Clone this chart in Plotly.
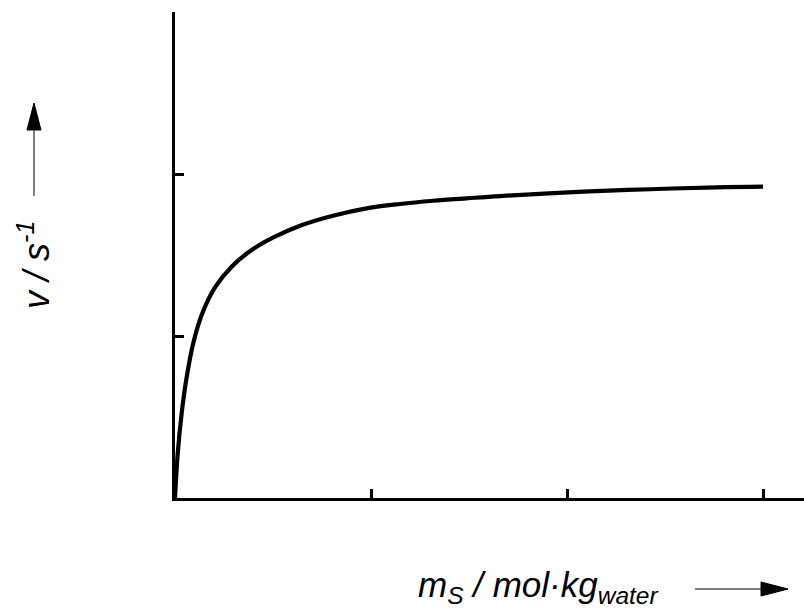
import plotly.graph_objects as go

# Data (substrate molality vs rate), arbitrary units
m_s = [0.0, 0.014, 0.034, 0.060, 0.093, 0.136, 0.204, 0.289, 0.391, 0.510,
       0.648, 0.811, 0.978, 1.148, 1.318, 1.488, 1.658, 2.083, 2.423, 2.764, 3.0]
v = [0.0, 0.276, 0.523, 0.749, 0.955, 1.130, 1.300, 1.428, 1.531, 1.613,
     1.685, 1.744, 1.788, 1.815, 1.835, 1.850, 1.864, 1.891, 1.906, 1.918, 1.922]
x_ticks = [0, 1, 2, 3]
y_ticks = [0, 1, 2, 3]

W, H = 804, 615
L, R, T, B = 175, 0, 12, 117
PW, PH = W - L - R, H - T - B

def px(xp):
    return (xp - L) / PW

def py(yp):
    return (H - B - yp) / PH

FONT = "Liberation Sans, Arial, sans-serif"

fig = go.Figure()
fig.add_trace(go.Scatter(x=m_s, y=v, mode="lines",
                         line=dict(color="black", width=4.2, shape="spline", smoothing=1.0),
                         hoverinfo="skip"))

axis_common = dict(showgrid=False, zeroline=False, showline=True, linecolor="black",
                   linewidth=3, ticks="inside", ticklen=9, tickwidth=2.5,
                   tickcolor="black", showticklabels=False)

fig.update_xaxes(range=[0, (W - L - R) / 196.0], tickvals=x_ticks, **axis_common)
fig.update_yaxes(range=[0, 3], tickvals=y_ticks, **axis_common)

annotations = [
    dict(text="<i>m<sub>S</sub> / mol·kg<sub>water</sub></i>", xref="paper", yref="paper",
         x=px(538), y=py(587), xanchor="center", yanchor="middle", showarrow=False,
         font=dict(family=FONT, size=35, color="black")),
    dict(text="<i>v / s<sup>-1</sup></i>", xref="paper", yref="paper",
         x=px(34), y=py(265), xanchor="center", yanchor="middle", showarrow=False,
         textangle=-90, font=dict(family=FONT, size=36, color="black")),
]

shapes = [
    # x arrow
    dict(type="line", xref="paper", yref="paper", x0=px(695), x1=px(762), y0=py(589), y1=py(589),
         line=dict(color="#555555", width=1.5)),
    dict(type="path", xref="paper", yref="paper",
         path=f"M {px(761)} {py(582)} L {px(788)} {py(589)} L {px(761)} {py(596)} Z",
         fillcolor="black", line=dict(color="black", width=1)),
    # y arrow
    dict(type="line", xref="paper", yref="paper", x0=px(34), x1=px(34), y0=py(196), y1=py(128),
         line=dict(color="#555555", width=1.5)),
    dict(type="path", xref="paper", yref="paper",
         path=f"M {px(27)} {py(130)} L {px(34)} {py(103)} L {px(41)} {py(130)} Z",
         fillcolor="black", line=dict(color="black", width=1)),
]

fig.update_layout(width=W, height=H, margin=dict(l=L, r=R, t=T, b=B),
                  plot_bgcolor="white", paper_bgcolor="white", showlegend=False,
                  annotations=annotations, shapes=shapes)

fig.write_html("out.html")
